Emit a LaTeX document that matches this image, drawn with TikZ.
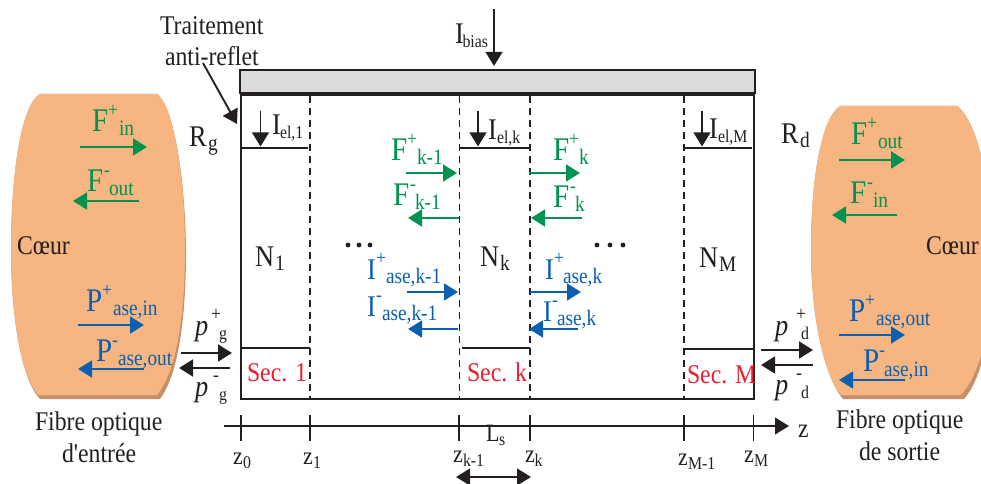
\documentclass[tikz,border=0pt]{standalone}
\usepackage{fontspec}
\setmainfont[FakeStretch=0.88]{Liberation Serif}
\newfontfamily\rawserif[FakeStretch=0.88]{Liberation Serif}
\usetikzlibrary{arrows.meta}
\definecolor{ink}{HTML}{231F20}
\definecolor{fibre}{HTML}{F7B581}
\definecolor{fibreshade}{HTML}{C49069}
\definecolor{sigg}{HTML}{00924F}
\definecolor{aseb}{HTML}{0A5FB0}
\definecolor{secr}{HTML}{ED1C2E}
\newcounter{lblno}
\newlength{\pxu}\setlength{\pxu}{0.75pt}
% plain text: options, x, y, size(px), text
\newcommand{\txt}[5]{\stepcounter{lblno}\node[lab,#1] (t\arabic{lblno}) at (#2,#3) {\fontsize{#4\pxu}{#4\pxu}\selectfont #5};}
% label: options, x, y, size, main, {sup dx}, sup, {sub dx}, sub
\newcommand{\lbl}[9]{\stepcounter{lblno}\node[lab,#1] (t\arabic{lblno}) at (#2,#3) {\fontsize{#4\pxu}{#4\pxu}\selectfont\rlap{#5}\fontsize{20\pxu}{20\pxu}\selectfont\rlap{\kern#6\pxu\raisebox{15\pxu}{#7}}\fontsize{22\pxu}{22\pxu}\selectfont\kern#8\pxu\raisebox{-4\pxu}{#9}};}
\newcommand{\smallsub}[1]{\fontsize{18\pxu}{18\pxu}\selectfont #1}
\tikzset{
 lab/.style={anchor=base west,inner sep=0pt,outer sep=0pt,text=ink},
 wall/.style={draw=ink,line width=1.5pt},
 thin wall/.style={draw=ink,line width=1.1pt},
 cut/.style={draw=ink,line width=1.1pt,dash pattern=on 5.5pt off 3.5pt},
 flow/.style={line width=2.1pt,-{Triangle[length=10.5pt,width=12.5pt]}},
 tick/.style={draw=ink,line width=1pt},
 gr/.style={text=sigg},
 bl/.style={text=aseb},
 rd/.style={text=secr}
}
\begin{document}
\begin{tikzpicture}[x=0.75pt,y=-0.75pt]
\useasboundingbox (0,0) rectangle (981,484);
% left fibre
\fill[fibreshade] (40,94) -- (157,94) .. controls (172,104) and (185,170) .. (186,250) .. controls (186,320) and (178,375) .. (160,399) -- (40,399) .. controls (22,380) and (11,320) .. (11,250) .. controls (11,170) and (22,104) .. (40,94) -- cycle;
\fill[fibre] (40,94) -- (157,94) .. controls (172,104) and (185,170) .. (185,250) .. controls (185,318) and (176,372) .. (157,395) -- (38,395) .. controls (22,376) and (11,320) .. (11,250) .. controls (11,170) and (22,104) .. (40,94) -- cycle;
% right fibre
\begin{scope}
\clip (0,0) rectangle (981,484);
\fill[fibreshade] (840,106) -- (957,106) .. controls (974,118) and (990,170) .. (993,250) .. controls (993,320) and (985,375) .. (964,399) -- (843,399) .. controls (825,378) and (811,320) .. (811,250) .. controls (811,175) and (822,118) .. (840,106) -- cycle;
\fill[fibre] (840,106) -- (957,106) .. controls (974,118) and (990,170) .. (994,250) .. controls (994,318) and (982,372) .. (961,395) -- (841,395) .. controls (825,376) and (811,320) .. (811,250) .. controls (811,175) and (822,118) .. (840,106) -- cycle;
\end{scope}
% device
\path[fill=black!14,draw=ink,line width=1.6pt] (240,70) rectangle (755,93);
\draw[wall] (240,95) -- (755,95);
\draw[wall] (241,95) -- (241,399) -- (754,399) -- (754,95);
\foreach \xx in {310,459.5,530,684}
  \draw[cut] (\xx,96) -- (\xx,398);
\draw[wall] (241,148) -- (308,148);
\draw[wall] (460,148) -- (529,148);
\draw[wall] (684,148) -- (752,148);
\draw[thin wall] (240,348) -- (310,348);
\draw[thin wall] (462,348) -- (530,348);
\draw[thin wall] (684,349) -- (754,349);
% treatment arrow
\coordinate (trA) at (203,63); \coordinate (trB) at (237,124);
\draw[flow,draw=ink,fill=ink,line width=1.4pt] (trA) -- (trB);
% bias and electrode arrows
\coordinate (bA) at (494,9); \coordinate (bB) at (494,66);
\draw[flow,draw=ink,fill=ink,line width=1.4pt] (bA) -- (bB);
\foreach \xx in {260.5,478,702}
  \draw[flow,draw=ink,fill=ink,line width=1.4pt] (\xx,111) -- (\xx,146.5);
% green arrows
\foreach \a/\b/\yy in {80/147/147,139/73/201,406/457/173,459/408/218,529/580/173,582/531/218,839/905/160,897/832/215}
  \draw[flow,draw=sigg,fill=sigg] (\a,\yy) -- (\b,\yy);
% blue arrows
\foreach \a/\b/\yy in {78/144/325,144/78/369,407/458/292,458/408/329,530/581/292,578/529/329,839/905/335,905/839/380}
  \draw[flow,draw=aseb,fill=aseb] (\a,\yy) -- (\b,\yy);
% black facet arrows
\foreach \a/\b/\yy in {181/232/353,230/179/368,761/813/350,813/761/365}
  \draw[flow,draw=ink,fill=ink] (\a,\yy) -- (\b,\yy);
% z axis
\draw[flow,draw=ink,fill=ink,line width=1.4pt] (224,426) -- (789,426);
\foreach \xx in {241,310,459,530,684,753.5}
  \draw[tick] (\xx,415) -- (\xx,441);
% section width arrow
\draw[draw=ink,fill=ink,line width=1.6pt,{Triangle[length=10.5pt,width=12.5pt]}-{Triangle[length=10.5pt,width=12.5pt]}] (456,477) -- (531,477);
% dots
\foreach \xx in {348,359,370,597,610,623}
  \fill[ink] (\xx,245) circle (2.4);
% texts
\txt{}{160}{35}{27}{Traitement}
\txt{}{165}{66}{27}{anti-reflet}
\lbl{}{189}{147}{30}{R}{0}{}{19}{g}
\lbl{}{781}{144}{30}{R}{0}{}{19}{d}
\txt{}{17}{255}{27}{Cœur}
\txt{}{926}{255}{27}{Cœur}
\txt{}{35}{430}{27}{Fibre optique}
\txt{}{62}{462}{27}{\rawserif d'entrée}
\txt{}{836}{428}{27}{Fibre optique}
\txt{}{859}{460}{27}{de sortie}
% currents
\lbl{}{455}{44}{30}{I}{0}{}{7.5}{\smallsub{bias}}
\lbl{}{272}{135}{30}{I}{0}{}{8}{\smallsub{el,1}}
\lbl{}{488}{140}{30}{I}{0}{}{9}{\smallsub{el,k}}
\lbl{}{709}{139}{30}{I}{0}{}{9}{\smallsub{el,M}}
% carriers
\lbl{}{255}{267}{30}{N}{0}{}{20}{1}
\lbl{}{480}{267}{30}{N}{0}{}{20}{k}
\lbl{}{699}{268}{30}{N}{0}{}{20}{M}
% sections
\txt{rd}{247}{382}{27}{Sec. 1}
\txt{rd}{467}{382}{27}{Sec. k}
\txt{rd}{687}{383}{27}{Sec. M}
% green labels
\lbl{gr}{92}{132}{33}{F}{16}{+}{27}{in}
\lbl{gr}{87}{192}{33}{F}{17}{-}{22}{out}
\lbl{gr}{391}{161}{33}{F}{16}{+}{26}{k-1}
\lbl{gr}{393}{206}{33}{F}{17}{-}{22}{k-1}
\lbl{gr}{553}{161}{33}{F}{16}{+}{26}{k}
\lbl{gr}{553}{208}{33}{F}{17}{-}{22}{k}
\lbl{gr}{851}{145}{33}{F}{16}{+}{27}{out}
\lbl{gr}{850}{204}{33}{F}{17}{-}{23}{in}
% blue labels
\lbl{bl}{86}{312}{33}{P}{16}{+}{27}{ase,in}
\lbl{bl}{96}{362}{33}{P}{16}{-}{22}{ase,out}
\lbl{bl}{849}{322}{33}{P}{16}{+}{27}{ase,out}
\lbl{bl}{863}{372}{33}{P}{16}{-}{21}{ase,in}
\lbl{bl}{367}{280}{30}{I}{9}{+}{19}{ase,k-1}
\lbl{bl}{367}{317}{30}{I}{9}{-}{15}{ase,k-1}
\lbl{bl}{545}{280}{30}{I}{9}{+}{18}{ase,k}
\lbl{bl}{543}{322}{30}{I}{9}{-}{14}{ase,k}
% facet powers
\lbl{}{195}{335}{30}{\textit{p}}{16}{+}{24}{\smallsub{g}}
\lbl{}{195}{396}{30}{\textit{p}}{18}{-}{24}{\smallsub{g}}
\lbl{}{775}{335}{30}{\textit{p}}{21}{+}{26}{\smallsub{d}}
\lbl{}{775}{394}{30}{\textit{p}}{21}{-}{26}{\smallsub{d}}
% axis labels
\lbl{}{486}{441}{25}{L}{0}{}{13}{\smallsub{s}}
\txt{}{798}{437}{27}{z}
\lbl{}{233}{464}{25}{z}{0}{}{10}{\smallsub{0}}
\lbl{}{303}{464}{25}{z}{0}{}{10}{\smallsub{1}}
\lbl{}{453}{462}{25}{z}{0}{}{10}{\smallsub{k-1}}
\lbl{}{525}{462}{25}{z}{0}{}{9.5}{\smallsub{k}}
\lbl{}{678}{465}{25}{z}{0}{}{10}{\smallsub{M-1}}
\lbl{}{744}{462}{25}{z}{0}{}{10}{\smallsub{M}}
\end{tikzpicture}
\end{document}
